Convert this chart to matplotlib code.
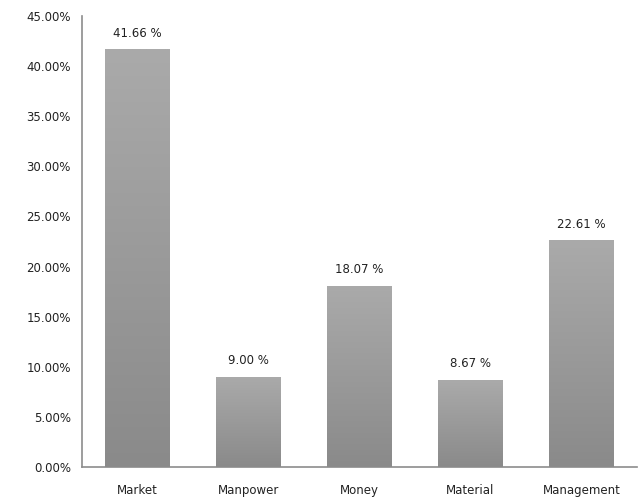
import matplotlib
matplotlib.use("Agg")
import matplotlib.pyplot as plt
import numpy as np
from matplotlib.colors import LinearSegmentedColormap

categories = ["Market", "Manpower", "Money", "Material", "Management"]
values = [41.66, 9.00, 18.07, 8.67, 22.61]
value_labels = ["41.66 %", "9.00 %", "18.07 %", "8.67 %", "22.61 %"]
yticks = [0, 5, 10, 15, 20, 25, 30, 35, 40, 45]

plt.rcParams['font.family'] = ['DejaVu Sans']

fig = plt.figure(figsize=(6.43, 5.0), dpi=100)
ax = fig.add_axes([0.1275, 0.066, 0.8632, 0.902])

x = np.arange(len(categories))
bars = ax.bar(x, values, width=0.58, color='#9a9a9a', zorder=2)

grad = np.linspace(0, 1, 256).reshape(-1, 1)
cmap = LinearSegmentedColormap.from_list('g', ['#8a8a8a', '#aaaaaa'])
for b in bars:
    bx, by = b.get_x(), b.get_y()
    w, h = b.get_width(), b.get_height()
    im = ax.imshow(grad, extent=[bx, bx + w, by, by + h], origin='lower',
                   cmap=cmap, aspect='auto', zorder=3)
    im.set_clip_path(b)

for xi, v, lab in zip(x, values, value_labels):
    ax.annotate(lab, (xi, v), xytext=(0, 7), textcoords='offset points',
                ha='center', va='bottom', fontsize=8.5, color='#222222')

ax.set_xlim(-0.5, len(categories) - 0.5)
ax.set_ylim(0, 45)
ax.set_yticks(yticks)
ax.set_yticklabels([f"{t:.2f}%" for t in yticks], fontsize=8.5, color='#222222')
ax.set_xticks(x)
ax.set_xticklabels(categories, fontsize=8.5, color='#222222')
ax.tick_params(axis='y', length=0, pad=8)
ax.tick_params(axis='x', length=0, pad=12)
for s in ['top', 'right']:
    ax.spines[s].set_visible(False)
for s in ['left', 'bottom']:
    ax.spines[s].set_color('#8c8c8c')
    ax.spines[s].set_linewidth(1.2)

fig.savefig("out.png", dpi=100)
